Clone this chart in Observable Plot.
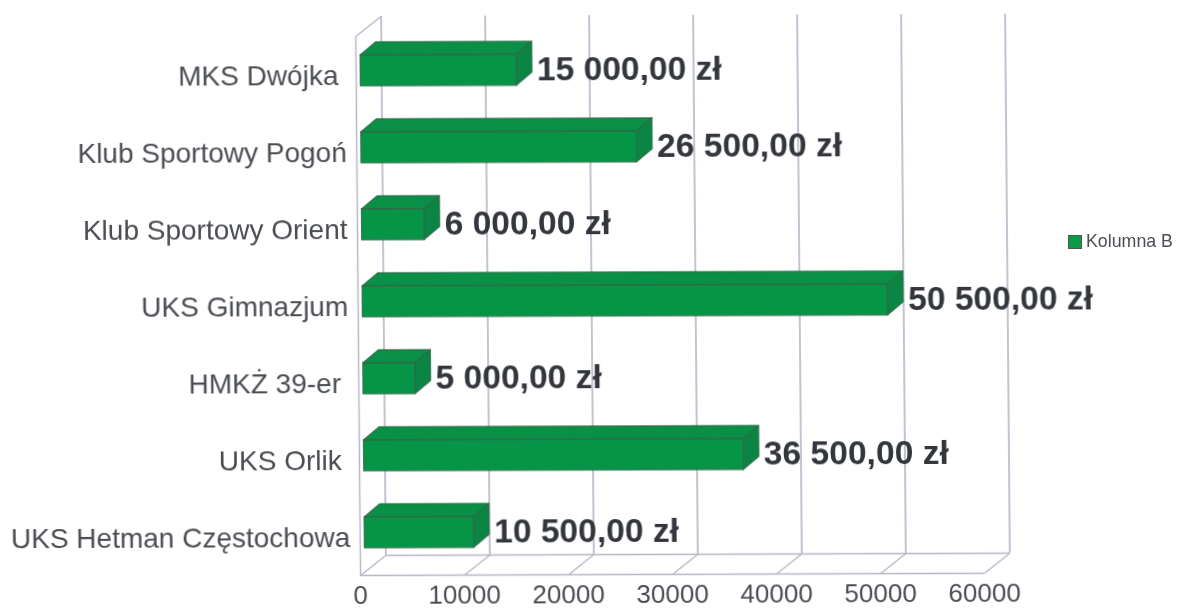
<!DOCTYPE html>
<html><head><meta charset="utf-8">
<script src="https://cdn.jsdelivr.net/npm/d3@7"></script>
<script src="https://cdn.jsdelivr.net/npm/@observablehq/plot@0.6"></script>
<style>
html,body{margin:0;padding:0;background:#fff;overflow:hidden}
#wrap{position:relative;width:1202px;height:608px;font-family:"Liberation Sans",Arial,sans-serif}
#chart svg{display:block;transform-origin:360px 575px;transform:skew(0.5deg,-0.2deg);filter:blur(0.6px)}
#legend{position:absolute;left:1068px;top:231px;display:flex;align-items:center;gap:4px;font-size:17.8px;color:#4a4d52;filter:blur(0.4px);white-space:nowrap}
#legend i{display:block;width:14px;height:14px;background:#0c9a48;border:1.5px solid #4a5a50;box-sizing:border-box}
</style></head><body>
<div id="wrap"><div id="chart"></div><div id="legend"><i></i><span>Kolumna B</span></div></div>
<script>
const categories = ["MKS Dwójka\u00A0","Klub Sportowy Pogoń","Klub Sportowy Orient","UKS Gimnazjum","HMKŻ 39-er\u00A0","UKS Orlik\u00A0","UKS Hetman Częstochowa"];
const values = [15000,26500,6000,50500,5000,36500,10500];
const xTicks = [0,10000,20000,30000,40000,50000,60000];

const barStart = 400, barDX = 1500, barDY = 0.17, halfBar = 0.2;
const wallDX = 2450, wallDY = 0.26;
const floorY = 6.56, topY = -0.70;
const rows = values.map((v,i)=>({i,v,name:categories[i]}));

const poly = (fn)=>rows.flatMap(r=>fn(r).map(([x,y])=>({x,y,z:r.i})));
const front = poly(r=>[[barStart,r.i-halfBar],[barStart+r.v,r.i-halfBar],[barStart+r.v,r.i+halfBar],[barStart,r.i+halfBar],[barStart,r.i-halfBar]]);
const top_ = poly(r=>[[barStart,r.i-halfBar],[barStart+barDX,r.i-halfBar-barDY],[barStart+r.v+barDX,r.i-halfBar-barDY],[barStart+r.v,r.i-halfBar],[barStart,r.i-halfBar]]);
const side = poly(r=>[[barStart+r.v,r.i-halfBar],[barStart+r.v+barDX,r.i-halfBar-barDY],[barStart+r.v+barDX,r.i+halfBar-barDY],[barStart+r.v,r.i+halfBar],[barStart+r.v,r.i-halfBar]]);
const fmt = v => d3.format(",.2f")(v).replace(/,/g," ").replace(".",",")+" zł";
const faceOpts = (fill)=>({x:"x",y:"y",z:"z",fill,stroke:"#2f6a48",strokeWidth:1.3,strokeOpacity:0.85});
const gridColor = "#b4b6c6";

const plot = Plot.plot({
  width:1202,height:608,
  marginLeft:360,marginRight:218,marginTop:16,marginBottom:33,
  style:{background:"transparent",fontFamily:"'Liberation Sans',Arial,sans-serif"},
  x:{domain:[0,60000],label:null},
  y:{domain:[floorY,topY],label:null},
  marks:[
    Plot.ruleX(xTicks,{x:t=>t+wallDX,y1:topY,y2:floorY-wallDY,stroke:gridColor,strokeWidth:1.6}),
    Plot.link(xTicks,{x1:t=>t,y1:floorY,x2:t=>t+wallDX,y2:floorY-wallDY,stroke:gridColor,strokeWidth:1.3}),
    Plot.link([0],{x1:0,y1:floorY,x2:60000,y2:floorY,stroke:gridColor,strokeWidth:1.6}),
    Plot.link([0],{x1:wallDX,y1:floorY-wallDY,x2:60000+wallDX,y2:floorY-wallDY,stroke:gridColor,strokeWidth:1.6}),
    Plot.link([0],{x1:0,y1:floorY,x2:0,y2:topY+wallDY,stroke:gridColor,strokeWidth:1.4}),
    Plot.link([0],{x1:0,y1:topY+wallDY,x2:wallDX,y2:topY,stroke:gridColor,strokeWidth:1.3}),
    Plot.line(top_,faceOpts("#0a9046")),
    Plot.line(side,faceOpts("#0b8544")),
    Plot.line(front,faceOpts("#069546")),
    Plot.text(rows,{x:d=>barStart+d.v+barDX,y:"i",text:d=>fmt(d.v),textAnchor:"start",dx:5,fontSize:33.6,fontWeight:"bold",fill:"#33363b"}),
    Plot.axisX(xTicks,{anchor:"bottom",tickSize:0,tickPadding:10,fontSize:26,fill:"#4a4d52",tickFormat:d=>String(d),label:null}),
    Plot.axisY(rows.map(r=>r.i),{anchor:"left",tickSize:0,tickPadding:10,fontSize:28,dy:6,fill:"#4a4d52",tickFormat:i=>categories[i],label:null})
  ]
});
document.getElementById("chart").append(plot);
</script>
</body></html>
